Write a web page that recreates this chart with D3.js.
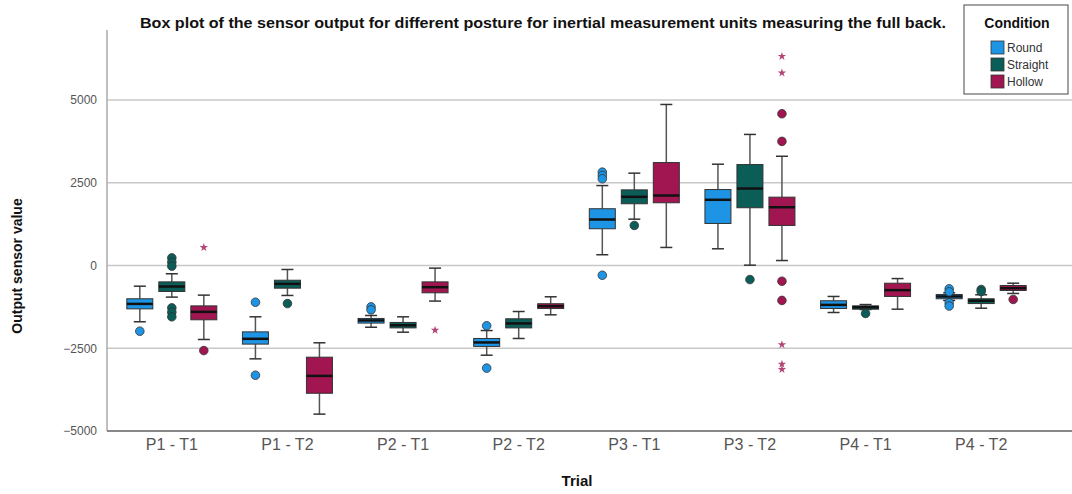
<!DOCTYPE html>
<html>
<head>
<meta charset="utf-8">
<script src="https://cdn.jsdelivr.net/npm/d3@7"></script>
<style>
	body { margin: 0; background: #fff; }
	svg { display: block; font-family: 'Liberation Sans', Arial, sans-serif; }
</style>
</head>
<body>
<div id="chart"></div>
<script>
// trials and conditions
const trials = ['P1 - T1', 'P1 - T2', 'P2 - T1', 'P2 - T2', 'P3 - T1', 'P3 - T2', 'P4 - T1', 'P4 - T2'];
const conditions = ['Round', 'Straight', 'Hollow'];
const yTicks = [-5000, -2500, 0, 2500, 5000];

// [whisker low, q1, median, q3, whisker high] per trial
const roundStats = [
	[-1700, -1310, -1160, -1005, -625],
	[-2820, -2375, -2215, -2005, -1550],
	[-1865, -1740, -1660, -1600, -1510],
	[-2710, -2445, -2325, -2205, -1965],
	[325, 1110, 1390, 1715, 2415],
	[505, 1270, 1985, 2295, 3060],
	[-1420, -1300, -1190, -1065, -935],
	[-1055, -1005, -935, -875, -825]
];
const straightStats = [
	[-955, -785, -635, -495, -250],
	[-905, -685, -555, -445, -120],
	[-2015, -1885, -1805, -1720, -1550],
	[-2205, -1885, -1750, -1610, -1390],
	[1400, 1865, 2075, 2285, 2790],
	[10, 1745, 2325, 3050, 3960],
	[-1330, -1320, -1260, -1220, -1180],
	[-1290, -1150, -1065, -1005, -885]
];
const hollowStats = [
	[-2235, -1640, -1400, -1220, -895],
	[-4490, -3860, -3335, -2770, -2335],
	[-1075, -825, -655, -495, -80],
	[-1490, -1300, -1230, -1155, -945],
	[545, 1895, 2115, 3110, 4865],
	[150, 1210, 1760, 2065, 3300],
	[-1320, -935, -745, -535, -395],
	[-845, -755, -685, -605, -535]
];

// outliers (circles) per trial
const roundOutliers = [[-1985], [-1110, -3315], [-1250, -1340], [-1820, -3100], [2820, 2720, 2620, -295], [], [], [-705, -795, -1125, -1225]];
const straightOutliers = [[230, 100, -20, -1280, -1410, -1550], [-1150], [], [], [1210], [-425], [-1450], [-725, -785]];
const hollowOutliers = [[-2570], [], [], [], [], [4585, 3750, -475, -1055], [], [-1025]];

// extremes (stars) per trial
const roundExtremes = [[], [], [], [], [], [], [], []];
const straightExtremes = [[], [], [], [], [], [], [], []];
const hollowExtremes = [[545], [], [-1955], [], [], [6320, 5820, -2390, -2980, -3140], [], []];

const colors = { Round: '#1e95e4', Straight: '#0b5d58', Hollow: '#a11651' };

const stats = { Round: roundStats, Straight: straightStats, Hollow: hollowStats };
const outliers = { Round: roundOutliers, Straight: straightOutliers, Hollow: hollowOutliers };
const extremes = { Round: roundExtremes, Straight: straightExtremes, Hollow: hollowExtremes };

const W = 1072, H = 494;
const plotLeft = 107, plotRight = 1072, plotTop = 30, plotBottom = 431;

const svg = d3
	.select('#chart')
	.append('svg')
	.attr('width', W)
	.attr('height', H);

// scales
const x = d3.scaleBand().domain(trials).range([114, 1039]).padding(0);
const xInner = d3.scaleBand().domain(conditions).range([-45, 45]).paddingInner(0.1875).paddingOuter(0);
const y = d3.scaleLinear().domain([-5000, 5000]).range([431, 100]);

// gridlines
svg
	.append('g')
	.selectAll('line')
	.data(yTicks.filter((d) => d !== -5000))
	.join('line')
	.attr('x1', plotLeft)
	.attr('x2', plotRight)
	.attr('y1', (d) => y(d))
	.attr('y2', (d) => y(d))
	.attr('stroke', '#c8c8c8')
	.attr('stroke-width', 1.5);

// y axis
const yAxis = svg
	.append('g')
	.attr('transform', `translate(${plotLeft},0)`)
	.call(d3.axisLeft(y).tickValues(yTicks).tickSize(0).tickPadding(10).tickFormat(d3.format('d')));
yAxis.select('.domain').remove();
yAxis.selectAll('text').attr('fill', '#555').style('font-size', '12px');
svg
	.append('line')
	.attr('x1', plotLeft)
	.attr('x2', plotLeft)
	.attr('y1', plotTop)
	.attr('y2', plotBottom)
	.attr('stroke', '#aaa')
	.attr('stroke-width', 1.5);

// x axis
const xAxis = svg
	.append('g')
	.attr('transform', `translate(0,${plotBottom})`)
	.call(d3.axisBottom(x).tickSize(0).tickPadding(8));
xAxis.select('.domain').remove();
xAxis.selectAll('text').attr('fill', '#555').style('font-size', '16px');
svg
	.append('line')
	.attr('x1', plotLeft)
	.attr('x2', plotRight)
	.attr('y1', plotBottom)
	.attr('y2', plotBottom)
	.attr('stroke', '#888')
	.attr('stroke-width', 2);

// boxes
const boxes = svg.append('g');
const capW = 12;
trials.forEach((t, i) => {
	conditions.forEach((c) => {
		const [lo, q1, med, q3, hi] = stats[c][i];
		const cx = x(t) + x.bandwidth() / 2 + xInner(c) + xInner.bandwidth() / 2;
		const bw = xInner.bandwidth();
		const g = boxes.append('g');
		// whiskers
		g.append('line')
			.attr('x1', cx).attr('x2', cx)
			.attr('y1', y(hi)).attr('y2', y(q3))
			.attr('stroke', '#555').attr('stroke-width', 1.5);
		g.append('line')
			.attr('x1', cx).attr('x2', cx)
			.attr('y1', y(q1)).attr('y2', y(lo))
			.attr('stroke', '#555').attr('stroke-width', 1.5);
		[lo, hi].forEach((v) => {
			g.append('line')
				.attr('x1', cx - capW / 2).attr('x2', cx + capW / 2)
				.attr('y1', y(v)).attr('y2', y(v))
				.attr('stroke', '#333').attr('stroke-width', 1.5);
		});
		g.append('rect')
			.attr('x', cx - bw / 2)
			.attr('width', bw)
			.attr('y', y(q3))
			.attr('height', Math.max(1, y(q1) - y(q3)))
			.attr('fill', colors[c])
			.attr('stroke', '#333')
			.attr('stroke-width', 1);
		g.append('line')
			.attr('x1', cx - bw / 2).attr('x2', cx + bw / 2)
			.attr('y1', y(med)).attr('y2', y(med))
			.attr('stroke', '#111').attr('stroke-width', 2.5);
		// outliers
		outliers[c][i].forEach((v) => {
			g.append('circle')
				.attr('cx', cx)
				.attr('cy', y(v))
				.attr('r', 4.3)
				.attr('fill', colors[c])
				.attr('stroke', '#333')
				.attr('stroke-width', 0.8);
		});
		// extremes
		extremes[c][i].forEach((v) => {
			g.append('path')
				.attr('transform', `translate(${cx},${y(v)})`)
				.attr('d', d3.symbol(d3.symbolStar, 22)())
				.attr('fill', colors[c])
				.attr('opacity', 0.8);
		});
	});
});

// title
svg
	.append('text')
	.attr('x', 543)
	.attr('y', 28)
	.attr('text-anchor', 'middle')
	.attr('textLength', 806)
	.attr('lengthAdjust', 'spacingAndGlyphs')
	.style('font-size', '15px')
	.style('font-weight', 'bold')
	.attr('fill', '#111')
	.text('Box plot of the sensor output for different posture for inertial measurement units measuring the full back.');

// axis titles
svg
	.append('text')
	.attr('transform', 'translate(22,266) rotate(-90)')
	.attr('text-anchor', 'middle')
	.style('font-size', '14px')
	.style('font-weight', 'bold')
	.attr('fill', '#111')
	.text('Output sensor value');
svg
	.append('text')
	.attr('x', 577)
	.attr('y', 486)
	.attr('text-anchor', 'middle')
	.style('font-size', '15px')
	.style('font-weight', 'bold')
	.attr('fill', '#111')
	.text('Trial');

// legend
const legend = svg.append('g').attr('transform', 'translate(964,5)');
legend
	.append('rect')
	.attr('width', 104)
	.attr('height', 89)
	.attr('fill', '#fff')
	.attr('stroke', '#666')
	.attr('stroke-width', 1.2);
legend
	.append('text')
	.attr('x', 53)
	.attr('y', 23)
	.attr('text-anchor', 'middle')
	.style('font-size', '14px')
	.style('font-weight', 'bold')
	.attr('fill', '#111')
	.text('Condition');
conditions.forEach((c, i) => {
	legend
		.append('rect')
		.attr('x', 27)
		.attr('y', 36 + i * 17)
		.attr('width', 13)
		.attr('height', 13)
		.attr('fill', colors[c])
		.attr('stroke', '#333')
		.attr('stroke-width', 0.8);
	legend
		.append('text')
		.attr('x', 43)
		.attr('y', 47 + i * 17)
		.style('font-size', '12px')
		.attr('fill', '#333')
		.text(c);
});
</script>
</body>
</html>
